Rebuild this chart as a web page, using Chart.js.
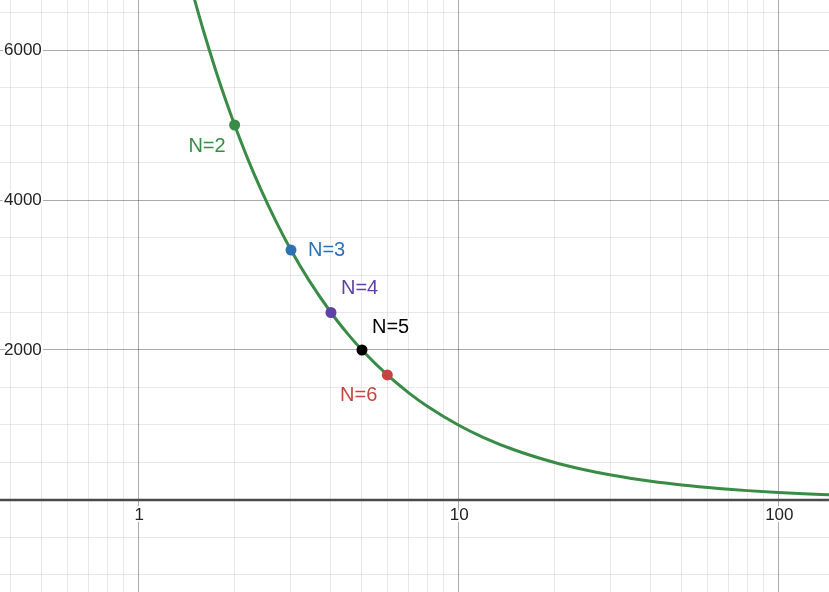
<!DOCTYPE html>
<html>
<head>
<meta charset="utf-8">
<script src="https://cdn.jsdelivr.net/npm/chart.js@4"></script>
<style>
html,body{margin:0;padding:0;background:#fff;}
#wrap{width:829px;height:592px;position:relative;}
</style>
</head>
<body>
<div id="wrap"><canvas id="c"></canvas></div>
<script>
// ---- data ----
const curveX = [1.4, 1.5, 1.6, 1.75, 1.9, 2, 2.2, 2.4, 2.7, 3, 3.4, 4, 4.5, 5, 6, 7, 8, 10, 12, 15, 20, 25, 30, 40, 50, 65, 80, 100, 120, 145];
const curveY = [7143, 6667, 6250, 5714, 5263, 5000, 4545, 4167, 3704, 3333, 2941, 2500, 2222, 2000, 1667, 1429, 1250, 1000, 833, 667, 500, 400, 333, 250, 200, 154, 125, 100, 83, 69];
const pointX = [2, 3, 4, 5, 6];
const pointY = [5000, 3333, 2500, 2000, 1667];
const pointLabels = ['N=2', 'N=3', 'N=4', 'N=5', 'N=6'];
const xTickValues = [1, 10, 100];
const xTickLabels = ['1', '10', '100'];
const yTickValues = [2000, 4000, 6000];
const yTickLabels = ['2000', '4000', '6000'];
const xGridValues = [0.4,0.5,0.6,0.7,0.8,0.9,1,2,3,4,5,6,7,8,9,10,20,30,40,50,60,70,80,90,100];
const yGridValues = [-1000,-500,0,500,1000,1500,2000,2500,3000,3500,4000,4500,5000,5500,6000,6500];

// ---- styles ----
const pointColors = ['#388c46', '#2d70b3', '#6042a6', '#000000', '#c74440'];
const curveColor = '#388c46';
// label offsets relative to point pixel: [dx, dy, align]
const labelPlacement = [[-9, 21, 'right'], [17, 0, 'left'], [10, -24, 'left'], [10, -23, 'left'], [-10, 21, 'right']];
const MAJOR = 'rgba(0,0,0,0.33)';
const MINOR = 'rgba(0,0,0,0.09)';

const overlay = {
  id: 'overlay',
  beforeDatasetsDraw(chart) {
    const ctx = chart.ctx, xs = chart.scales.x, ys = chart.scales.y;
    const y0 = ys.getPixelForValue(0);
    ctx.save();
    ctx.strokeStyle = '#4a4a4a';
    ctx.lineWidth = 2.5;
    ctx.beginPath();
    ctx.moveTo(0, y0); ctx.lineTo(chart.width, y0);
    ctx.stroke();
    ctx.font = '17px "Liberation Sans", Arial, sans-serif';
    ctx.lineJoin = 'round';
    ctx.textBaseline = 'middle';
    // x tick labels
    ctx.textAlign = 'center';
    xTickValues.forEach((v, i) => {
      const px = xs.getPixelForValue(v);
      ctx.strokeStyle = '#fff'; ctx.lineWidth = 4;
      ctx.strokeText(xTickLabels[i], px + 1, y0 + 15);
      ctx.fillStyle = '#222';
      ctx.fillText(xTickLabels[i], px + 1, y0 + 15);
    });
    // y tick labels
    ctx.textAlign = 'left';
    yTickValues.forEach((v, i) => {
      const py = ys.getPixelForValue(v);
      ctx.strokeStyle = '#fff'; ctx.lineWidth = 4;
      ctx.strokeText(yTickLabels[i], 4, py);
      ctx.fillStyle = '#222';
      ctx.fillText(yTickLabels[i], 4, py);
    });
    ctx.restore();
  },
  afterDatasetsDraw(chart) {
    const ctx = chart.ctx, xs = chart.scales.x, ys = chart.scales.y;
    ctx.save();
    ctx.font = '20px "Liberation Sans", Arial, sans-serif';
    ctx.textBaseline = 'middle';
    ctx.lineJoin = 'round';
    pointX.forEach((v, i) => {
      const px = xs.getPixelForValue(v), py = ys.getPixelForValue(pointY[i]);
      const [dx, dy, al] = labelPlacement[i];
      ctx.textAlign = al;
      ctx.strokeStyle = 'rgba(255,255,255,0.9)'; ctx.lineWidth = 3;
      ctx.strokeText(pointLabels[i], px + dx, py + dy);
      ctx.fillStyle = pointColors[i];
      ctx.fillText(pointLabels[i], px + dx, py + dy);
    });
    ctx.restore();
  }
};

new Chart(document.getElementById('c'), {
  type: 'scatter',
  data: {
    datasets: [
      {
        data: pointX.map((x, i) => ({x, y: pointY[i]})),
        backgroundColor: pointColors,
        pointBackgroundColor: pointColors,
        pointBorderWidth: 0,
        pointRadius: 5.5,
        showLine: false,
        order: 0
      },
      {
        data: curveX.map((x, i) => ({x, y: curveY[i]})),
        borderColor: curveColor,
        borderWidth: 3,
        showLine: true,
        pointRadius: 0,
        cubicInterpolationMode: 'monotone',
        order: 1
      }
    ]
  },
  options: {
    responsive: true,
    maintainAspectRatio: false,
    animation: false,
    events: [],
    layout: {padding: 0, autoPadding: false},
    plugins: {legend: {display: false}, tooltip: {enabled: false}},
    scales: {
      x: {
        type: 'logarithmic',
        min: 0.3697, max: 144.0,
        afterBuildTicks: s => { s.ticks = xGridValues.map(v => ({value: v})); },
        ticks: {display: false},
        border: {display: false},
        grid: {
          drawTicks: false,
          color: c => xTickValues.includes(c.tick.value) ? MAJOR : MINOR,
          lineWidth: 1
        }
      },
      y: {
        type: 'linear',
        min: -1226.7, max: 6666.7,
        afterBuildTicks: s => { s.ticks = yGridValues.map(v => ({value: v})); },
        ticks: {display: false},
        border: {display: false},
        grid: {
          drawTicks: false,
          color: c => c.tick.value === 0 ? 'rgba(0,0,0,0)' : (c.tick.value % 2000 === 0 ? MAJOR : MINOR),
          lineWidth: 1
        }
      }
    }
  },
  plugins: [overlay]
});
</script>
</body>
</html>
